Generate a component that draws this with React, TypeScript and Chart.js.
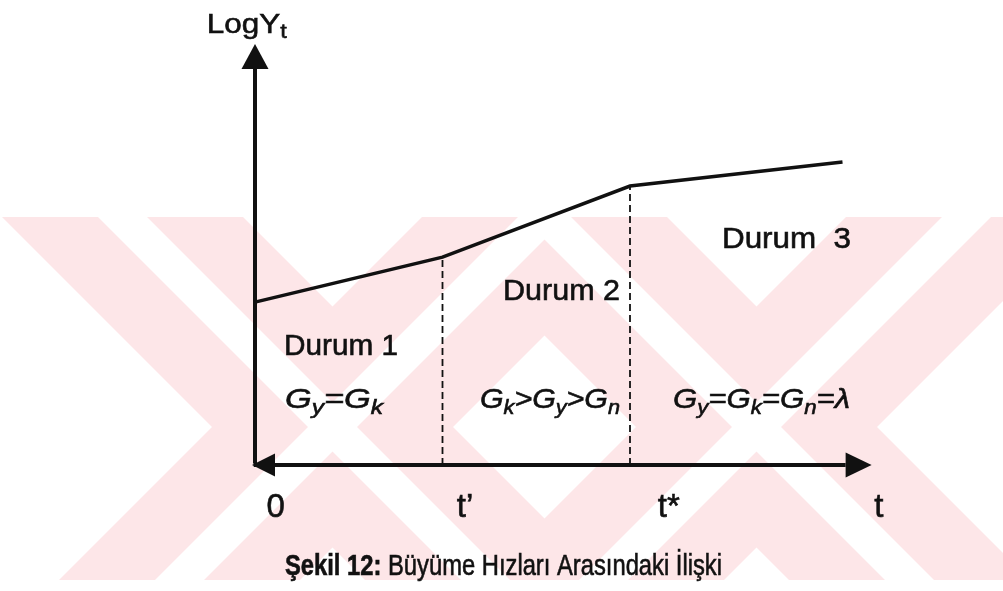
import React, { useEffect, useRef } from 'react';
import { Chart, registerables } from 'chart.js';

Chart.register(...registerables);

// ---------- data ----------
const timePoints = [0, 3, 6, 9.4];          // 0, t', t*, end of curve
const logYValues = [5.43, 6.93, 9.3, 10.1]; // LogY_t at those times
const regimeBoundaries = [3, 6];            // t' and t*
const tickLabels = ['0', 't\u2019', 't*', 't'];
const tickPositions = [0.33, 3.36, 6.62, 9.98];
const regimeLabels = ['Durum 1', 'Durum 2', 'Durum  3'];
const axisEndT = 9.45;
const axisEndY = 13.2;

// ---------- layout (positions in data units of the scales) ----------
const FONT = '"Liberation Sans", Arial, Helvetica, sans-serif';
const X_MIN = -4.08, X_MAX = 11.968, Y_MIN = -4.2, Y_MAX = 15.5;

type Run = { text: string; font: string; dy?: number };

const regimePos = [
  { t: 0.464, y: 3.667, w: 114 },
  { t: 3.968, y: 5.5, w: 117 },
  { t: 7.472, y: 7.233, w: 129 },
];

const sub = (s: string): Run => ({ text: s, font: `italic 20px ${FONT}`, dy: 6 });
const big = (s: string): Run => ({ text: s, font: `italic 28px ${FONT}` });

const conditionRuns: Run[][] = [
  [big('G'), sub('y'), big('=G'), sub('k')],
  [big('G'), sub('k'), big('>G'), sub('y'), big('>G'), sub('n')],
  [big('G'), sub('y'), big('=G'), sub('k'), big('=G'), sub('n'), big('=\u03bb')],
];
const conditionPos = [
  { t: 0.48, y: 1.9, w: 98 },
  { t: 3.6, y: 1.9, w: 140 },
  { t: 6.688, y: 1.9, w: 177 },
];

const captionRuns: Run[] = [
  { text: '\u015eekil 12:', font: `bold 29px ${FONT}` },
  { text: ' B\u00fcy\u00fcme H\u0131zlar\u0131 Aras\u0131ndaki \u0130li\u015fki', font: `29px ${FONT}` },
];

// watermark (decoration): two outlined X shapes, given by left vertex x
const WM_TOP = 217, WM_VERTEX = 427, WM_BOTTOM = 580;
const WM_ARM = 241, WM_GAP_FROM = 96, WM_GAP_TO = 145;
const wmCrosses = [212, 636];

function drawRuns(ctx: CanvasRenderingContext2D, runs: Run[], x: number, y: number, targetWidth?: number, align: 'left' | 'center' = 'left') {
  let w = 0;
  for (const r of runs) { ctx.font = r.font; w += ctx.measureText(r.text).width; }
  const hs = targetWidth ? targetWidth / w : 1;
  const startX = align === 'center' ? x - (w * hs) / 2 : x;
  ctx.save();
  ctx.translate(startX, y);
  ctx.scale(hs, 1);
  ctx.fillStyle = '#111';
  ctx.strokeStyle = '#111';
  ctx.lineWidth = 0.6;
  ctx.textBaseline = 'alphabetic';
  ctx.textAlign = 'left';
  let cx = 0;
  for (const r of runs) {
    ctx.font = r.font;
    ctx.fillText(r.text, cx, r.dy || 0);
    ctx.strokeText(r.text, cx, r.dy || 0);
    cx += ctx.measureText(r.text).width;
  }
  ctx.restore();
}

function band(ctx: CanvasRenderingContext2D, left: number, width: number, dir: number) {
  const up = WM_TOP - WM_VERTEX, down = WM_BOTTOM - WM_VERTEX;
  ctx.beginPath();
  ctx.moveTo(left + dir * up, WM_TOP);
  ctx.lineTo(left + width + dir * up, WM_TOP);
  ctx.lineTo(left + width + dir * down, WM_BOTTOM);
  ctx.lineTo(left + dir * down, WM_BOTTOM);
  ctx.closePath();
  ctx.fill();
}

const decorPlugin = {
  id: 'decor',
  beforeDatasetsDraw(chart: any) {
    const ctx: CanvasRenderingContext2D = chart.ctx;
    ctx.save();
    ctx.fillStyle = '#ffffff';
    ctx.fillRect(0, 0, chart.width, chart.height);
    ctx.beginPath();
    ctx.rect(0, WM_TOP, chart.width, WM_BOTTOM - WM_TOP);
    ctx.clip();
    ctx.fillStyle = '#fde6e8';
    for (const v of wmCrosses) { band(ctx, v, WM_ARM, 1); band(ctx, v, WM_ARM, -1); }
    ctx.fillStyle = '#ffffff';
    for (const v of wmCrosses) {
      band(ctx, v + WM_GAP_FROM, WM_GAP_TO - WM_GAP_FROM, 1);
      band(ctx, v + WM_GAP_FROM, WM_GAP_TO - WM_GAP_FROM, -1);
    }
    ctx.restore();
  },
  afterDatasetsDraw(chart: any) {
    const ctx: CanvasRenderingContext2D = chart.ctx;
    const xs = chart.scales.x, ys = chart.scales.y;
    const px = (t: number) => xs.getPixelForValue(t);
    const py = (v: number) => ys.getPixelForValue(v);
    ctx.save();
    ctx.fillStyle = '#111';
    const ox = px(0), oy = py(0);
    const topY = py(axisEndY);
    ctx.beginPath();
    ctx.moveTo(ox, topY - 25);
    ctx.lineTo(ox - 13.5, topY);
    ctx.lineTo(ox + 13.5, topY);
    ctx.closePath();
    ctx.fill();
    const rx = px(axisEndT);
    ctx.beginPath();
    ctx.moveTo(rx + 26, oy);
    ctx.lineTo(rx, oy - 12.5);
    ctx.lineTo(rx, oy + 12.5);
    ctx.closePath();
    ctx.fill();
    ctx.beginPath();
    ctx.moveTo(ox - 3, oy);
    ctx.lineTo(ox + 20, oy - 11.5);
    ctx.lineTo(ox + 20, oy + 11.5);
    ctx.closePath();
    ctx.fill();
    ctx.restore();

    drawRuns(ctx, [
      { text: 'LogY', font: `28px ${FONT}` },
      { text: 't', font: `21px ${FONT}`, dy: 5 },
    ], px(-0.773), py(14.39), 80);

    regimeLabels.forEach((s, i) => {
      const p = regimePos[i];
      drawRuns(ctx, [{ text: s, font: `29px ${FONT}` }], px(p.t), py(p.y), p.w);
    });
    conditionRuns.forEach((runs, i) => {
      const p = conditionPos[i];
      drawRuns(ctx, runs, px(p.t), py(p.y), p.w);
    });
    tickLabels.forEach((s, i) => {
      drawRuns(ctx, [{ text: s, font: `33px ${FONT}` }], px(tickPositions[i]), py(-1.733), undefined, 'center');
    });
    drawRuns(ctx, captionRuns, px(0.48), py(-3.667), 437);
  },
};

export default function App() {
  const ref = useRef<HTMLCanvasElement>(null);
  useEffect(() => {
    if (!ref.current) return;
    const curve = timePoints.map((t, i) => ({ x: t, y: logYValues[i] }));
    const dashed = regimeBoundaries.map((t) => {
      const idx = timePoints.indexOf(t);
      return [{ x: t, y: 0 }, { x: t, y: logYValues[idx] }];
    });
    const chart = new Chart(ref.current, {
      type: 'line',
      data: {
        datasets: [
          { data: curve, borderColor: '#111', borderWidth: 3.5, pointRadius: 0, tension: 0 } as any,
          ...dashed.map((d) => ({ data: d, borderColor: '#111', borderWidth: 1.8, borderDash: [7, 4], pointRadius: 0 } as any)),
          { data: [{ x: -0.02, y: 0 }, { x: axisEndT, y: 0 }], borderColor: '#111', borderWidth: 4, pointRadius: 0 } as any,
          { data: [{ x: 0, y: 0.05 }, { x: 0, y: axisEndY }], borderColor: '#111', borderWidth: 4, pointRadius: 0 } as any,
        ],
      },
      options: {
        animation: false,
        responsive: false,
        devicePixelRatio: 1,
        layout: { padding: 0 },
        parsing: false as any,
        plugins: { legend: { display: false }, tooltip: { enabled: false } },
        scales: {
          x: { type: 'linear', min: X_MIN, max: X_MAX, display: false },
          y: { type: 'linear', min: Y_MIN, max: Y_MAX, display: false },
        },
      },
      plugins: [decorPlugin],
    });
    return () => chart.destroy();
  }, []);
  return (
    <div style={{ position: 'absolute', left: 0, top: 0, width: 1003, height: 591, background: '#fff' }}>
      <canvas ref={ref} width={1003} height={591} style={{ display: 'block' }} />
    </div>
  );
}
